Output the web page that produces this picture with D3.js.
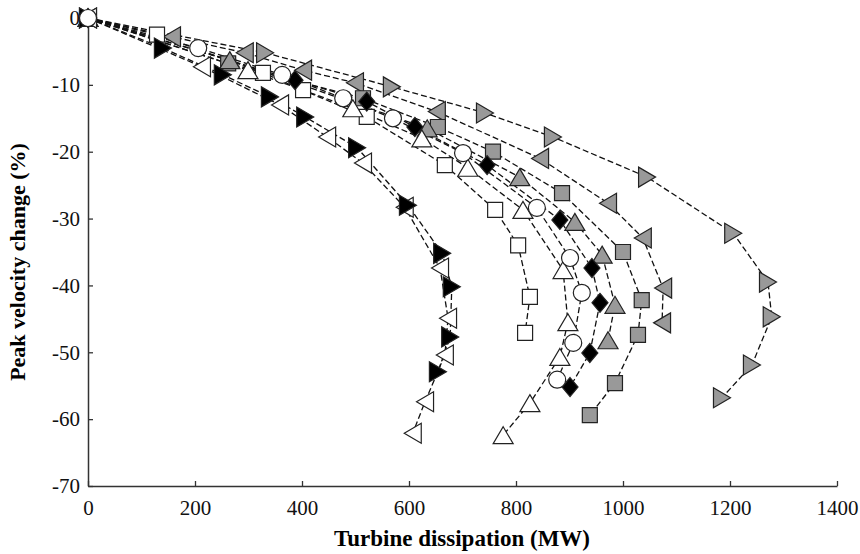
<!DOCTYPE html>
<html>
<head>
<meta charset="utf-8">
<script src="https://cdn.jsdelivr.net/npm/d3@7"></script>
<style>
  body { margin: 0; background: #fff; }
  text { font-family: "Liberation Serif", "Times New Roman", serif; }
</style>
</head>
<body>
<div id="chart"></div>
<script>
// data: [turbine dissipation MW, peak velocity change %]
var blackRight = [[0,0],[140,-4.5],[252,-8.5],[340,-11.8],[406,-14.8],[503,-19.4],[598,-28],[662,-35.2],[680,-40.2],[677,-47.7],[654,-52.9]];
var openLeft = [[0,0],[213,-7.3],[359,-13],[447,-17.8],[514,-21.7],[592,-28.3],[658,-37.4],[673,-44.9],[667,-50.4],[630,-57.4],[607,-62.1]];
var openSquare = [[0,0],[129,-2.5],[327,-8.2],[402,-10.8],[521,-14.8],[667,-22],[761,-28.7],[804,-34],[826,-41.7],[817,-47.1]];
var openUp = [[0,0],[299,-7.8],[495,-13.5],[624,-18],[710,-22.4],[813,-28.7],[888,-37.7],[897,-45.5],[882,-50.7],[826,-57.6],[776,-62.4]];
var blackDiamond = [[0,0],[387,-9.3],[521,-12.5],[611,-16.3],[746,-22],[882,-30.2],[942,-37.4],[957,-42.6],[938,-50.1],[901,-55.2]];
var grayUp = [[0,0],[265,-6.3],[634,-16.5],[807,-23.8],[910,-30.5],[961,-35.4],[985,-42.9],[972,-48.2]];
var graySquare = [[0,0],[262,-6.8],[514,-12],[654,-16.3],[757,-20],[886,-26.2],[1000,-35],[1035,-42.2],[1028,-47.4],[985,-54.6],[938,-59.4]];
var grayLeft = [[0,0],[157,-2.8],[293,-5.2],[402,-7.8],[499,-9.7],[652,-14],[845,-21],[972,-27.7],[1037,-32.9],[1075,-40.4],[1073,-45.6]];
var grayRight = [[0,0],[331,-5.2],[568,-10.3],[742,-14.2],[869,-17.8],[1045,-23.8],[1206,-32.2],[1271,-39.5],[1278,-44.7],[1241,-51.9],[1185,-56.8]];
var openCircle = [[0,0],[206,-4.5],[363,-8.5],[477,-12],[570,-15],[701,-20.2],[839,-28.4],[901,-35.9],[923,-41.1],[907,-48.6],[877,-54.1]];

var xTicks = [0, 200, 400, 600, 800, 1000, 1200, 1400];
var yTicks = [0, -10, -20, -30, -40, -50, -60, -70];

// marker shapes
var shapes = {
  right: "M8.5,0L-8.5,-10L-8.5,10Z",
  left: "M-8.5,0L8.5,-10L8.5,10Z",
  up: "M0,-8.5L10,8.5L-10,8.5Z",
  square: "M-7.5,-7.5H7.5V7.5H-7.5Z",
  diamond: "M0,-9.5L8,0L0,9.5L-8,0Z",
  circle: "M8.5,0A8.5,8.5 0 1,1 -8.5,0A8.5,8.5 0 1,1 8.5,0Z"
};

var series = [
  { data: grayRight, shape: "right", fill: "#999" },
  { data: grayLeft, shape: "left", fill: "#999" },
  { data: graySquare, shape: "square", fill: "#999" },
  { data: grayUp, shape: "up", fill: "#999" },
  { data: openSquare, shape: "square", fill: "#fff" },
  { data: openUp, shape: "up", fill: "#fff" },
  { data: openLeft, shape: "left", fill: "#fff" },
  { data: blackDiamond, shape: "diamond", fill: "#000" },
  { data: blackRight, shape: "right", fill: "#000" },
  { data: openCircle, shape: "circle", fill: "#fff" }
];

var svgWidth = 860, svgHeight = 554;

var svg = d3.select("#chart").append("svg")
  .attr("width", svgWidth)
  .attr("height", svgHeight);

var x = d3.scaleLinear().domain([0, 1400]).range([88, 837]);
var y = d3.scaleLinear().domain([-70, 0]).range([486, 18]);

// axes (plain hyphen minus, no thousands separator)
var xAxis = svg.append("g")
  .attr("transform", "translate(0,486)")
  .call(d3.axisBottom(x).tickValues(xTicks).tickFormat(d => String(d))
    .tickSizeInner(-5).tickSizeOuter(0).tickPadding(14));

var yAxis = svg.append("g")
  .attr("transform", "translate(88,0)")
  .call(d3.axisLeft(y).tickValues(yTicks).tickFormat(d => String(d))
    .tickSizeInner(-5).tickSizeOuter(0).tickPadding(8));

[xAxis, yAxis].forEach(function(g) {
  g.select(".domain").attr("stroke", "#333").attr("stroke-width", 1.5);
  g.selectAll(".tick line").attr("stroke", "#333").attr("stroke-width", 1.3);
  g.selectAll(".tick text")
    .attr("font-family", "Liberation Serif, serif")
    .attr("font-size", "21px")
    .attr("fill", "#111");
});

// lines
var line = d3.line().x(d => x(d[0])).y(d => y(d[1]));

svg.append("g").selectAll("path")
  .data(series)
  .enter()
  .append("path")
  .attr("d", d => line(d.data))
  .attr("fill", "none")
  .attr("stroke", "#111")
  .attr("stroke-width", 1.3)
  .attr("stroke-dasharray", "6,3");

// markers
series.forEach(function(s) {
  svg.append("g").selectAll("path")
    .data(s.data)
    .enter()
    .append("path")
    .attr("transform", d => `translate(${x(d[0])},${y(d[1])})`)
    .attr("d", shapes[s.shape])
    .attr("fill", s.fill)
    .attr("stroke", "#222")
    .attr("stroke-width", 1.2);
});

// titles
svg.append("text")
  .attr("x", 462)
  .attr("y", 546)
  .attr("text-anchor", "middle")
  .attr("font-size", "23px")
  .attr("font-weight", "bold")
  .text("Turbine dissipation (MW)");

svg.append("text")
  .attr("transform", "translate(25,262) rotate(-90)")
  .attr("text-anchor", "middle")
  .attr("font-size", "22px")
  .attr("font-weight", "bold")
  .text("Peak velocity change (%)");
</script>
</body>
</html>
